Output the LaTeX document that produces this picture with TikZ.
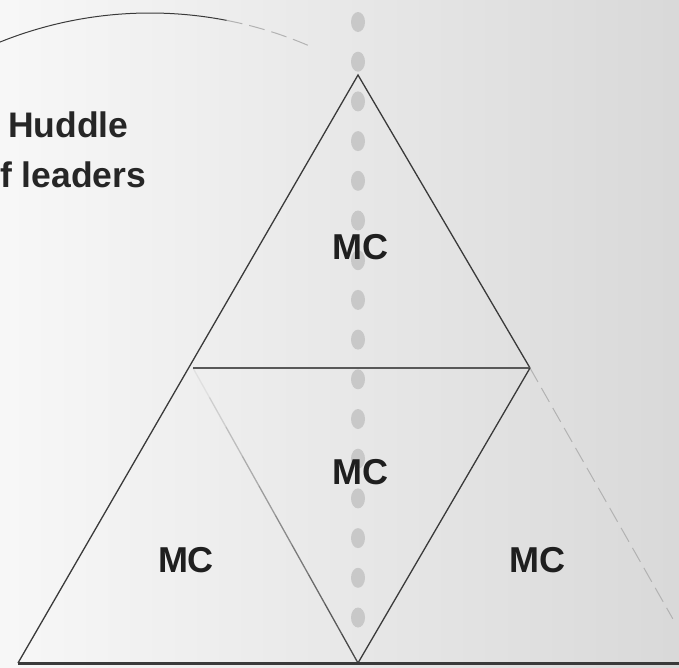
\documentclass[tikz,border=0pt]{standalone}
\usepackage{fontspec}
\setmainfont{Liberation Sans}
\usetikzlibrary{calc}
\definecolor{lineGray}{HTML}{3A3A3A}
\definecolor{dotGray}{HTML}{C8C8C8}
\tikzset{
  pyr/line/.style={draw=lineGray, line width=1.3pt},
  pyr/shelf/.style={draw=lineGray!85, line width=2.6pt},
  pyr/base/.style={draw=lineGray, line width=3pt},
  pyr/ghost/.style={draw=black!30, line width=1pt, dash pattern=on 16pt off 7pt},
  pyr/dot/.style={fill=dotGray},
  pyr/label/.style={font=\bfseries\fontsize{36}{40}\selectfont, text=black!88, inner sep=0pt},
  pyr/title/.style={font=\bfseries\fontsize{35.5}{40}\selectfont, text=black!85, inner sep=0pt, anchor=base west}
}
\begin{document}
\begin{tikzpicture}[x=1pt, y=1pt]
\useasboundingbox (0,0) rectangle (679,-667);
\clip (0,0) rectangle (679,-667);
\shade[left color=black!3, right color=black!15] (0,0) rectangle (679,-667);
% corners of the pyramid
\coordinate (apex) at (358,-75);
\coordinate (midleft) at (193,-368);
\coordinate (midright) at (530,-368);
\coordinate (botleft) at (18,-663);
\coordinate (botmid) at (358,-663);
\coordinate (botright) at (698,-663);
\coordinate (arccentre) at (150,-415);
% dotted axis
\foreach \i in {0,...,15}
  \fill[pyr/dot] (358,-22-39.7*\i) ellipse (7pt and 10pt);
% huddle arc
\draw[pyr/line, line width=1pt] (arccentre) ++(112:402pt) arc (112:79:402pt);
\draw[pyr/ghost] (arccentre) ++(79:402pt) arc (79:66:402pt);
% pyramid
\draw[pyr/line] (botleft) -- (apex) -- (midright);
\draw[pyr/ghost] (midright) -- ($(midright)!0.85!(botright)$);
\draw[pyr/shelf] (midleft) -- (midright);
\draw[pyr/line] (midright) -- (botmid);
\foreach \k in {0,...,9}
  \draw[pyr/line, opacity={0.08+0.092*\k}] ($(midleft)!{\k/10}!(botmid)$) -- ($(midleft)!{(\k+1)/10}!(botmid)$);
\draw[pyr/base] (botleft) -- (679,-663);
% labels
\node[pyr/title] (huddle) at (8,-137) {Huddle};
\node[pyr/title] (leaders) at (0,-187) {f leaders};
\node[pyr/label] (mctop) at (360,-247) {MC};
\node[pyr/label] (mcmid) at (360,-472) {MC};
\node[pyr/label] (mcleft) at (186,-560) {MC};
\node[pyr/label] (mcright) at (537,-560) {MC};
\end{tikzpicture}
\end{document}
